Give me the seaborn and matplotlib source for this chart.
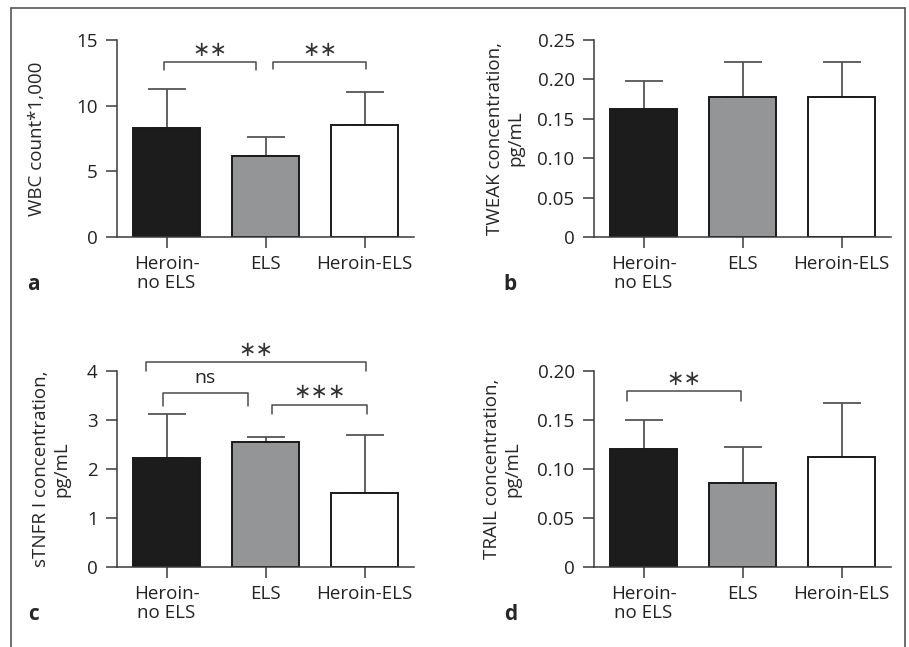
"""Four-panel bar chart: cytokine levels by group with significance brackets."""

import numpy as np
import matplotlib
matplotlib.use("Agg")
import matplotlib.pyplot as plt
from matplotlib.lines import Line2D
import seaborn as sns

groups = ["Heroin-\nno ELS", "ELS", "Heroin-ELS"]
bar_colors = ["#1c1c1c", "#939598", "#ffffff"]

wbc_mean = [8.32, 6.19, 8.50]
wbc_upper = [11.27, 7.61, 11.02]
tweak_mean = [0.163, 0.178, 0.178]
tweak_upper = [0.198, 0.222, 0.222]
stnfr_mean = [2.22, 2.55, 1.52]
stnfr_upper = [3.12, 2.66, 2.70]
trail_mean = [0.120, 0.0856, 0.112]
trail_upper = [0.150, 0.122, 0.167]

# brackets: (x_start, x_end, top, leg_bottom, label, label_y)
wbc_brackets = [(-0.03, 0.90, 13.3, 12.7, "∗∗", 14.25),
                (1.08, 2.02, 13.35, 12.77, "∗∗", 14.25)]
stnfr_brackets = [(-0.04, 0.82, 3.545, 3.29, "ns", 3.85),
                  (1.07, 2.03, 3.31, 3.12, "∗∗∗", 3.58),
                  (-0.21, 2.02, 4.18, 4.0, "∗∗", 4.43)]
trail_brackets = [(-0.17, 0.98, 0.1796, 0.169, "∗∗", 0.1915)]

FONT = ["Open Sans", "DejaVu Sans"]
sns.set_style("white")
plt.rcParams["font.family"] = FONT
plt.rcParams["font.size"] = 13.5
AX_COLOR = "#3a3a3a"

W, H = 909, 647
fig = plt.figure(figsize=(W / 100, H / 100), dpi=100)


def make_ax(left, bottom, width, height):
    return fig.add_axes([left / W, (H - bottom) / H, width / W, height / H])


def panel(ax, means, uppers, ymax, yticks, yticklabels, ylabel, label_x,
          brackets, letter):
    sns.barplot(x=groups, y=means, hue=groups, palette=bar_colors, legend=False,
                width=0.67, edgecolor="#1a1a1a", linewidth=1.4, ax=ax, zorder=2)
    err = np.array(uppers) - np.array(means)
    ax.errorbar(range(3), means, yerr=[np.zeros(3), err], fmt="none",
                ecolor="#555555", elinewidth=1.3, capsize=13.5, capthick=1.3, zorder=1)
    ax.set_xlim(-0.5, 2.5)
    ax.set_ylim(0, ymax)
    ax.set_yticks(yticks)
    ax.set_yticklabels(yticklabels)
    ax.set_ylabel(ylabel, fontsize=13.5, linespacing=1.15, va="center")
    ax.yaxis.set_label_coords(label_x, 0.5)
    sns.despine(ax=ax)
    for s in ["left", "bottom"]:
        ax.spines[s].set_color(AX_COLOR)
        ax.spines[s].set_linewidth(1.1)
    ax.tick_params(axis="both", length=8, width=1.1, color=AX_COLOR,
                   labelsize=13.5, labelcolor="#222222", left=True, bottom=True)
    ax.tick_params(axis="y", pad=6)
    ax.tick_params(axis="x", pad=5)
    for lab in ax.get_xticklabels():
        lab.set_linespacing(1.05)
    for x0, x1, top, leg, text, ty in brackets:
        ax.plot([x0, x0, x1, x1], [leg, top, top, leg], color="#4a4a4a",
                lw=1.1, clip_on=False)
        if text == "ns":
            ax.text((x0 + x1) / 2, ty, text, ha="center", va="center",
                    fontsize=14, color="#222222", clip_on=False)
        else:
            ax.text((x0 + x1) / 2, ty, text, ha="center", va="center",
                    fontsize=15, color="#333333", family=["DejaVu Sans"], clip_on=False)
    ax.text(-0.282, -0.24, letter, transform=ax.transAxes, fontsize=15,
            fontweight="bold", ha="center", va="center")


ax_a = make_ax(117, 237, 297, 197)
panel(ax_a, wbc_mean, wbc_upper, 15, [0, 5, 10, 15], ["0", "5", "10", "15"],
      "WBC count*1,000", -0.27, wbc_brackets, "a")

ax_b = make_ax(594, 237, 297, 197)
panel(ax_b, tweak_mean, tweak_upper, 0.25, [0, 0.05, 0.10, 0.15, 0.20, 0.25],
      ["0", "0.05", "0.10", "0.15", "0.20", "0.25"],
      "TWEAK concentration,\npg/mL", -0.30, [], "b")

ax_c = make_ax(117, 567, 297, 196)
panel(ax_c, stnfr_mean, stnfr_upper, 4, [0, 1, 2, 3, 4], ["0", "1", "2", "3", "4"],
      "sTNFR I concentration,\npg/mL", -0.222, stnfr_brackets, "c")

ax_d = make_ax(594, 567, 297, 196)
panel(ax_d, trail_mean, trail_upper, 0.20, [0, 0.05, 0.10, 0.15, 0.20],
      ["0", "0.05", "0.10", "0.15", "0.20"],
      "TRAIL concentration,\npg/mL", -0.31, trail_brackets, "d")

# outer frame (open at the bottom)
fx0, fx1, fy = 10.5 / W, 905 / W, (H - 7.5) / H
for xs, ys in [([fx0, fx0], [0, fy]), ([fx0, fx1], [fy, fy]), ([fx1, fx1], [fy, 0])]:
    fig.add_artist(Line2D(xs, ys, color="#555555", lw=1.2))

fig.savefig("out.png", dpi=100)
